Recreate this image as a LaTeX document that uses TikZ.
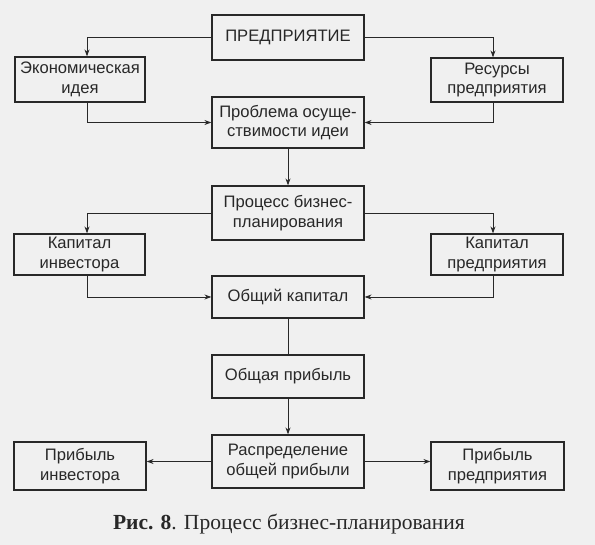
\documentclass[tikz,border=0pt]{standalone}
\usepackage{fontspec}
\setmainfont{Liberation Serif}
\newfontfamily\boxfont{Liberation Sans}
\usetikzlibrary{arrows.meta}
\definecolor{paper}{RGB}{240,240,240}
\definecolor{ink}{RGB}{40,40,40}
\tikzset{
  box/.style={draw=ink, line width=1.2pt, fill=none, text=ink, align=center,
    font=\boxfont\fontsize{16.6}{19.5}\selectfont, inner sep=0pt},
  arr/.style={draw=ink, line width=0.9pt, -{Stealth[length=7pt,width=5pt]}},
  ln/.style={draw=ink, line width=0.9pt},
}
\begin{document}
\begin{tikzpicture}[x=1pt,y=-1pt]
\fill[paper] (0,0) rectangle (595,545);
\useasboundingbox (0,0) rectangle (595,545);
% boxes
\node[box, minimum width=152pt, minimum height=45pt] (pred) at (288,37.5) {ПРЕДПРИЯТИЕ};
\node[box, minimum width=130pt, minimum height=45pt] (econ) at (80,79.5) {Экономическая\\идея};
\node[box, minimum width=132pt, minimum height=44pt] (res) at (497,80) {Ресурсы\\предприятия};
\node[box, minimum width=152pt, minimum height=51pt] (prob) at (288,122.5) {Проблема осуще-\\ствимости идеи};
\node[box, minimum width=152pt, minimum height=54pt] (proc) at (288,213) {Процесс бизнес-\\планирования};
\node[box, minimum width=131pt, minimum height=41pt] (kinv) at (79.5,254.5) {Капитал\\инвестора};
\node[box, minimum width=132pt, minimum height=41pt] (kpred) at (497,254.5) {Капитал\\предприятия};
\node[box, minimum width=152pt, minimum height=42pt] (obk) at (288,297) {Общий капитал};
\node[box, minimum width=152pt, minimum height=43pt] (obp) at (288,376.5) {Общая прибыль};
\node[box, minimum width=152pt, minimum height=53pt] (rasp) at (288,461.5) {Распределение\\общей прибыли};
\node[box, minimum width=132pt, minimum height=48pt] (pinv) at (80,466) {Прибыль\\инвестора};
\node[box, minimum width=133pt, minimum height=48pt] (ppred) at (497.5,466) {Прибыль\\предприятия};
% columns of the side connectors
\coordinate (cl) at (87,0);
\coordinate (cr) at (493,0);
% connectors
\draw[arr] (pred.west) -| (econ.north -| cl);
\draw[arr] (pred.east) -| (res.north -| cr);
\draw[arr] (econ.south -| cl) |- (prob.west);
\draw[arr] (res.south -| cr) |- (prob.east);
\draw[arr] (prob.south) -- (proc.north);
\draw[arr] (proc.west) -| (kinv.north -| cl);
\draw[arr] (proc.east) -| (kpred.north -| cr);
\draw[arr] (kinv.south -| cl) |- (obk.west);
\draw[arr] (kpred.south -| cr) |- (obk.east);
\draw[ln] (obk.south) -- (obp.north);
\draw[arr] (obp.south) -- (rasp.north);
\draw[arr] (rasp.west) -- (pinv.east |- rasp.west);
\draw[arr] (rasp.east) -- (ppred.west |- rasp.east);
% caption
\node[text=ink, font=\fontsize{21.5}{24}\selectfont, anchor=center] (cap) at (289,524) {\textbf{Рис. 8}. Процесс бизнес-планирования};
\end{tikzpicture}
\end{document}
